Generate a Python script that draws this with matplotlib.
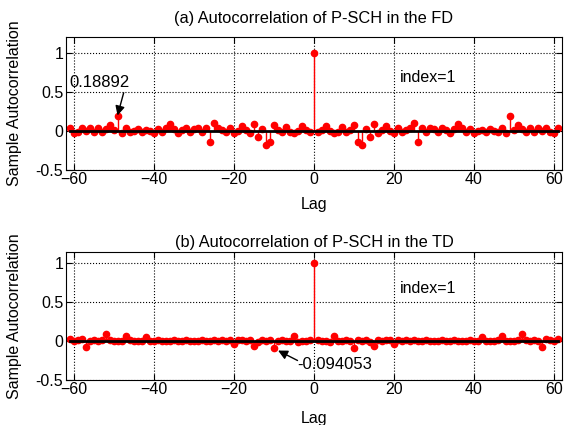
import numpy as np
import matplotlib
matplotlib.use('Agg')
import matplotlib.pyplot as plt

plt.rcParams['font.family'] = ['Liberation Sans', 'DejaVu Sans']
plt.rcParams['font.size'] = 11.5

# autocorrelation values for lags 1..61 (symmetric about lag 0)
fd_pos = [-0.02, 0.01, 0.055, 0.0, -0.03, -0.02, 0.05, -0.02, 0.01, 0.07,
          -0.14, -0.18, 0.02, -0.085, 0.085, -0.03, 0.01, 0.055, -0.01, -0.03,
          0.03, -0.02, 0.01, 0.04, 0.10, -0.145, 0.03, -0.02, 0.03, 0.02,
          -0.02, 0.03, 0.01, -0.03, 0.02, 0.085, 0.03, -0.02, 0.02, -0.03,
          0.0, 0.01, -0.02, 0.02, 0.0, -0.02, 0.03, -0.03, 0.18892, 0.01,
          0.075, 0.02, -0.02, 0.03, -0.02, 0.03, 0.0, 0.04, -0.02, -0.03,
          0.04]
td_pos = [0.01, -0.01, 0.0, -0.015, 0.064, -0.01, -0.01, 0.01, -0.01, -0.094053,
          0.01, -0.01, 0.01, -0.02, -0.065, 0.01, -0.01, 0.01, 0.01, -0.04,
          0.01, 0.0, 0.01, -0.01, 0.01, 0.0, -0.01, 0.01, 0.0, -0.01,
          0.0, 0.01, -0.01, 0.0, 0.01, -0.01, 0.0, -0.01, 0.01, 0.0,
          -0.01, 0.045, -0.01, 0.0, -0.01, 0.01, 0.06, -0.01, 0.0, -0.01,
          0.01, 0.085, 0.01, -0.01, 0.01, 0.0, -0.075, 0.02, 0.01, 0.0,
          0.02]

lags = np.arange(-61, 62)
fd = np.concatenate([fd_pos[::-1], [1.0], fd_pos])
td = np.concatenate([td_pos[::-1], [1.0], td_pos])

titles = ['(a) Autocorrelation of P-SCH in the FD',
          '(b) Autocorrelation of P-SCH in the TD']

fig = plt.figure(figsize=(5.65, 4.25), dpi=100)
W, H = 565.0, 425.0
# axes boxes in pixels: left, top, right, bottom
boxes = [(66, 37, 562, 169.7), (66, 251.8, 562, 379.7)]
ytops = [1.2, 1.14]
title_y = [18, 243]
lag_y = [205, 418]

axes = []
for i, (l, t, r, b) in enumerate(boxes):
    ax = fig.add_axes([l / W, 1 - b / H, (r - l) / W, (b - t) / H])
    axes.append(ax)
    y = fd if i == 0 else td
    ml, sl, bl = ax.stem(lags, y, basefmt='k-')
    plt.setp(sl, color='red', linewidth=1)
    plt.setp(ml, color='red', markersize=4.5, markeredgecolor='red')
    plt.setp(bl, linewidth=2, color='black', zorder=4)
    ax.set_xlim(-62, 62)
    ax.set_ylim(-0.5, ytops[i])
    ax.set_xticks([-60, -40, -20, 0, 20, 40, 60])
    ax.set_yticks([-0.5, 0, 0.5, 1])
    ax.set_yticklabels(['-0.5', '0', '0.5', '1'])
    ax.grid(True, color='black', linestyle=':', linewidth=0.8)
    ax.tick_params(direction='in', top=True, right=True, length=4, pad=2)
    ax.set_xlabel('Lag', va='center')
    ax.xaxis.set_label_coords(0.5, (b - lag_y[i]) / (b - t))
    ax.set_ylabel('Sample Autocorrelation', va='center')
    ax.yaxis.set_label_coords((15 - l) / (r - l), 0.5)
    fig.text(314 / W, 1 - title_y[i] / H, titles[i], ha='center', va='center',
             fontsize=11.8)
    ax.text(21.5, 0.675, 'index=1', va='center', ha='left')
    for s in ax.spines.values():
        s.set_linewidth(0.8)

# data tips
ax = axes[0]
ax.annotate('', xy=(-49.3, 0.16), xytext=(-47.4, 0.52),
            arrowprops=dict(arrowstyle='-|>', color='black', lw=1,
                            mutation_scale=14), zorder=6)
ax.text(-53.6, 0.62, '0.18892', ha='center', va='center', fontsize=12)

ax = axes[1]
ax.annotate('', xy=(-9.6, -0.11), xytext=(-3.5, -0.27),
            arrowprops=dict(arrowstyle='-|>', color='black', lw=1,
                            mutation_scale=14), zorder=6)
ax.text(-4.1, -0.31, '-0.094053', ha='left', va='center', fontsize=12)

fig.savefig('out.png', dpi=100)
